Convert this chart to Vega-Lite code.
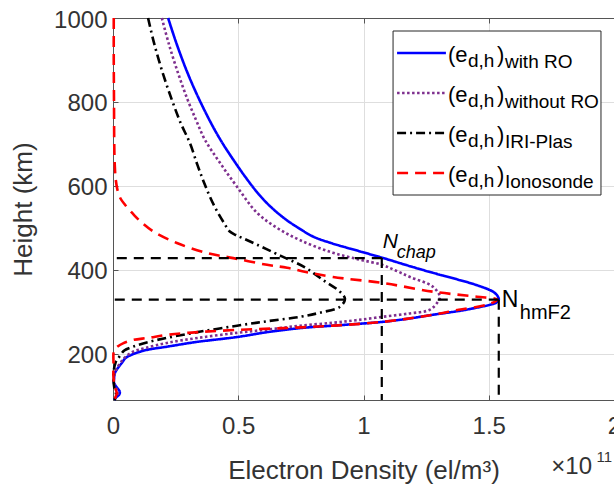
{
  "$schema": "https://vega.github.io/schema/vega-lite/v6.json",
  "width": 501,
  "height": 382,
  "autosize": {"type": "none"},
  "padding": {"left": 113, "top": 18, "right": 0, "bottom": 86},
  "background": "white",
  "config": {
    "font": "Liberation Sans",
    "view": {"stroke": "#555555", "strokeWidth": 1},
    "axis": {
      "labelFont": "Liberation Sans",
      "labelFontSize": 24,
      "labelColor": "#333333",
      "titleFont": "Liberation Sans",
      "titleFontSize": 26,
      "titleFontWeight": "normal",
      "titleColor": "#333333",
      "domainColor": "#555555",
      "tickColor": "#555555",
      "gridColor": "#dedede",
      "grid": true,
      "tickSize": -5,
      "labelFlush": false,
      "labelOverlap": false
    }
  },
  "datasets": {
    "profiles": [
      {"s": "with RO", "h": 1000, "n": 0.22},
      {"s": "with RO", "h": 940, "n": 0.253},
      {"s": "with RO", "h": 870, "n": 0.297},
      {"s": "with RO", "h": 805, "n": 0.345},
      {"s": "with RO", "h": 740, "n": 0.4},
      {"s": "with RO", "h": 700, "n": 0.439},
      {"s": "with RO", "h": 660, "n": 0.483},
      {"s": "with RO", "h": 620, "n": 0.53},
      {"s": "with RO", "h": 580, "n": 0.582},
      {"s": "with RO", "h": 550, "n": 0.63},
      {"s": "with RO", "h": 520, "n": 0.69},
      {"s": "with RO", "h": 500, "n": 0.74},
      {"s": "with RO", "h": 479, "n": 0.8},
      {"s": "with RO", "h": 464, "n": 0.87},
      {"s": "with RO", "h": 445, "n": 0.98},
      {"s": "with RO", "h": 429, "n": 1.074},
      {"s": "with RO", "h": 408, "n": 1.19},
      {"s": "with RO", "h": 393, "n": 1.277},
      {"s": "with RO", "h": 378, "n": 1.37},
      {"s": "with RO", "h": 364, "n": 1.45},
      {"s": "with RO", "h": 348, "n": 1.517},
      {"s": "with RO", "h": 338, "n": 1.535},
      {"s": "with RO", "h": 329, "n": 1.54},
      {"s": "with RO", "h": 322, "n": 1.53},
      {"s": "with RO", "h": 317, "n": 1.505},
      {"s": "with RO", "h": 304, "n": 1.4},
      {"s": "with RO", "h": 293, "n": 1.277},
      {"s": "with RO", "h": 283, "n": 1.17},
      {"s": "with RO", "h": 276, "n": 1.074},
      {"s": "with RO", "h": 268, "n": 0.9},
      {"s": "with RO", "h": 262, "n": 0.76},
      {"s": "with RO", "h": 252, "n": 0.62},
      {"s": "with RO", "h": 240, "n": 0.495},
      {"s": "with RO", "h": 228, "n": 0.33},
      {"s": "with RO", "h": 217, "n": 0.215},
      {"s": "with RO", "h": 210, "n": 0.14},
      {"s": "with RO", "h": 205, "n": 0.108},
      {"s": "with RO", "h": 198, "n": 0.075},
      {"s": "with RO", "h": 190, "n": 0.05},
      {"s": "with RO", "h": 179, "n": 0.036},
      {"s": "with RO", "h": 165, "n": 0.018},
      {"s": "with RO", "h": 155, "n": 0.008},
      {"s": "with RO", "h": 140, "n": 0.004},
      {"s": "with RO", "h": 131, "n": 0.004},
      {"s": "with RO", "h": 120, "n": 0.015},
      {"s": "with RO", "h": 110, "n": 0.027},
      {"s": "with RO", "h": 103, "n": 0.025},
      {"s": "with RO", "h": 96, "n": 0.012},
      {"s": "with RO", "h": 90, "n": 0.005},

      {"s": "without RO", "h": 1000, "n": 0.195},
      {"s": "without RO", "h": 940, "n": 0.222},
      {"s": "without RO", "h": 870, "n": 0.259},
      {"s": "without RO", "h": 805, "n": 0.298},
      {"s": "without RO", "h": 755, "n": 0.333},
      {"s": "without RO", "h": 710, "n": 0.367},
      {"s": "without RO", "h": 655, "n": 0.427},
      {"s": "without RO", "h": 598, "n": 0.495},
      {"s": "without RO", "h": 536, "n": 0.575},
      {"s": "without RO", "h": 500, "n": 0.655},
      {"s": "without RO", "h": 471, "n": 0.746},
      {"s": "without RO", "h": 443, "n": 0.866},
      {"s": "without RO", "h": 425, "n": 0.98},
      {"s": "without RO", "h": 412, "n": 1.074},
      {"s": "without RO", "h": 398, "n": 1.13},
      {"s": "without RO", "h": 383, "n": 1.186},
      {"s": "without RO", "h": 360, "n": 1.277},
      {"s": "without RO", "h": 336, "n": 1.305},
      {"s": "without RO", "h": 324, "n": 1.297},
      {"s": "without RO", "h": 305, "n": 1.265},
      {"s": "without RO", "h": 296, "n": 1.18},
      {"s": "without RO", "h": 288, "n": 1.074},
      {"s": "without RO", "h": 280, "n": 0.97},
      {"s": "without RO", "h": 274, "n": 0.878},
      {"s": "without RO", "h": 267, "n": 0.746},
      {"s": "without RO", "h": 258, "n": 0.62},
      {"s": "without RO", "h": 250, "n": 0.495},
      {"s": "without RO", "h": 238, "n": 0.34},
      {"s": "without RO", "h": 226, "n": 0.215},
      {"s": "without RO", "h": 214, "n": 0.13},
      {"s": "without RO", "h": 205, "n": 0.08},
      {"s": "without RO", "h": 190, "n": 0.045},
      {"s": "without RO", "h": 179, "n": 0.03},
      {"s": "without RO", "h": 165, "n": 0.015},
      {"s": "without RO", "h": 150, "n": 0.006},
      {"s": "without RO", "h": 130, "n": 0.004},
      {"s": "without RO", "h": 115, "n": 0.015},
      {"s": "without RO", "h": 105, "n": 0.02},
      {"s": "without RO", "h": 95, "n": 0.01},
      {"s": "without RO", "h": 90, "n": 0.005},

      {"s": "IRI-Plas", "h": 1000, "n": 0.14},
      {"s": "IRI-Plas", "h": 940, "n": 0.164},
      {"s": "IRI-Plas", "h": 870, "n": 0.198},
      {"s": "IRI-Plas", "h": 805, "n": 0.235},
      {"s": "IRI-Plas", "h": 750, "n": 0.27},
      {"s": "IRI-Plas", "h": 702, "n": 0.307},
      {"s": "IRI-Plas", "h": 650, "n": 0.337},
      {"s": "IRI-Plas", "h": 610, "n": 0.362},
      {"s": "IRI-Plas", "h": 574, "n": 0.387},
      {"s": "IRI-Plas", "h": 540, "n": 0.415},
      {"s": "IRI-Plas", "h": 510, "n": 0.445},
      {"s": "IRI-Plas", "h": 492, "n": 0.465},
      {"s": "IRI-Plas", "h": 483, "n": 0.49},
      {"s": "IRI-Plas", "h": 475, "n": 0.52},
      {"s": "IRI-Plas", "h": 460, "n": 0.575},
      {"s": "IRI-Plas", "h": 436, "n": 0.66},
      {"s": "IRI-Plas", "h": 428, "n": 0.69},
      {"s": "IRI-Plas", "h": 406, "n": 0.766},
      {"s": "IRI-Plas", "h": 376, "n": 0.838},
      {"s": "IRI-Plas", "h": 348, "n": 0.906},
      {"s": "IRI-Plas", "h": 331, "n": 0.926},
      {"s": "IRI-Plas", "h": 312, "n": 0.906},
      {"s": "IRI-Plas", "h": 298, "n": 0.826},
      {"s": "IRI-Plas", "h": 288, "n": 0.746},
      {"s": "IRI-Plas", "h": 278, "n": 0.62},
      {"s": "IRI-Plas", "h": 267, "n": 0.495},
      {"s": "IRI-Plas", "h": 253, "n": 0.35},
      {"s": "IRI-Plas", "h": 238, "n": 0.215},
      {"s": "IRI-Plas", "h": 228, "n": 0.14},
      {"s": "IRI-Plas", "h": 217, "n": 0.08},
      {"s": "IRI-Plas", "h": 208, "n": 0.045},
      {"s": "IRI-Plas", "h": 193, "n": 0.025},
      {"s": "IRI-Plas", "h": 179, "n": 0.01},
      {"s": "IRI-Plas", "h": 160, "n": 0.003},
      {"s": "IRI-Plas", "h": 140, "n": 0.002},
      {"s": "IRI-Plas", "h": 120, "n": 0.005},
      {"s": "IRI-Plas", "h": 105, "n": 0.012},
      {"s": "IRI-Plas", "h": 97, "n": 0.012},
      {"s": "IRI-Plas", "h": 90, "n": 0.005},

      {"s": "Ionosonde", "h": 1000, "n": 0.003},
      {"s": "Ionosonde", "h": 900, "n": 0.003},
      {"s": "Ionosonde", "h": 800, "n": 0.004},
      {"s": "Ionosonde", "h": 700, "n": 0.005},
      {"s": "Ionosonde", "h": 650, "n": 0.007},
      {"s": "Ionosonde", "h": 615, "n": 0.011},
      {"s": "Ionosonde", "h": 590, "n": 0.018},
      {"s": "Ionosonde", "h": 570, "n": 0.03},
      {"s": "Ionosonde", "h": 555, "n": 0.048},
      {"s": "Ionosonde", "h": 530, "n": 0.085},
      {"s": "Ionosonde", "h": 510, "n": 0.12},
      {"s": "Ionosonde", "h": 490, "n": 0.165},
      {"s": "Ionosonde", "h": 464, "n": 0.255},
      {"s": "Ionosonde", "h": 440, "n": 0.375},
      {"s": "Ionosonde", "h": 428, "n": 0.48},
      {"s": "Ionosonde", "h": 412, "n": 0.615},
      {"s": "Ionosonde", "h": 405, "n": 0.695},
      {"s": "Ionosonde", "h": 395, "n": 0.77},
      {"s": "Ionosonde", "h": 383, "n": 0.878},
      {"s": "Ionosonde", "h": 369, "n": 1.074},
      {"s": "Ionosonde", "h": 348, "n": 1.277},
      {"s": "Ionosonde", "h": 336, "n": 1.453},
      {"s": "Ionosonde", "h": 329, "n": 1.533},
      {"s": "Ionosonde", "h": 317, "n": 1.493},
      {"s": "Ionosonde", "h": 305, "n": 1.38},
      {"s": "Ionosonde", "h": 293, "n": 1.277},
      {"s": "Ionosonde", "h": 276, "n": 1.074},
      {"s": "Ionosonde", "h": 264, "n": 0.786},
      {"s": "Ionosonde", "h": 257, "n": 0.495},
      {"s": "Ionosonde", "h": 250, "n": 0.3},
      {"s": "Ionosonde", "h": 245, "n": 0.215},
      {"s": "Ionosonde", "h": 238, "n": 0.14},
      {"s": "Ionosonde", "h": 233, "n": 0.08},
      {"s": "Ionosonde", "h": 225, "n": 0.04},
      {"s": "Ionosonde", "h": 218, "n": 0.02},
      {"s": "Ionosonde", "h": 210, "n": 0.006},
      {"s": "Ionosonde", "h": 202, "n": 0.002},
      {"s": "Ionosonde", "h": 179, "n": 0.002},
      {"s": "Ionosonde", "h": 143, "n": 0.002},
      {"s": "Ionosonde", "h": 120, "n": 0.008},
      {"s": "Ionosonde", "h": 107, "n": 0.015},
      {"s": "Ionosonde", "h": 97, "n": 0.01},
      {"s": "Ionosonde", "h": 90, "n": 0.003}
    ],
    "refs": [
      {"label": "chap", "n": 1.073, "h": 428},
      {"label": "hmF2", "n": 1.54, "h": 329}
    ],
    "keys": [
      {"s": "with RO", "k": 0},
      {"s": "without RO", "k": 1},
      {"s": "IRI-Plas", "k": 2},
      {"s": "Ionosonde", "k": 3}
    ]
  },
  "layer": [
    {
      "layer": [
        {
          "data": {"name": "profiles"},
          "mark": {"type": "line", "strokeWidth": 2.6, "interpolate": "catmull-rom"},
          "encoding": {
            "x": {
              "field": "n",
              "type": "quantitative",
              "scale": {"domain": [0, 2], "nice": false, "zero": false},
              "axis": {
                "values": [0, 0.5, 1, 1.5, 2],
                "labelExpr": "format(datum.value, '~g')",
                "labelPadding": 19,
                "title": "Electron Density (el/m³)",
                "titleBaseline": "alphabetic",
                "titleY": 78
              }
            },
            "y": {
              "field": "h",
              "type": "quantitative",
              "scale": {"domain": [90, 1000], "nice": false, "zero": false},
              "axis": {
                "values": [200, 400, 600, 800, 1000],
                "labelExpr": "format(datum.value, 'd')",
                "labelPadding": 11,
                "labelOffset": 2,
                "title": "Height (km)",
                "titleBaseline": "alphabetic",
                "titleX": -82
              }
            },
            "color": {
              "field": "s",
              "type": "nominal",
              "scale": {
                "domain": ["with RO", "without RO", "IRI-Plas", "Ionosonde"],
                "range": ["#0000ff", "#7e2f8e", "#000000", "#ff0000"]
              },
              "legend": null
            },
            "strokeDash": {
              "field": "s",
              "type": "nominal",
              "scale": {
                "domain": ["with RO", "without RO", "IRI-Plas", "Ionosonde"],
                "range": [[1, 0], [2.5, 2.5], [9, 4, 2, 4], [11, 7]]
              },
              "legend": null
            },
            "order": {"field": "h", "type": "quantitative", "sort": "descending"}
          }
        },
        {
          "data": {"name": "refs"},
          "mark": {"type": "rule", "color": "#000000", "strokeWidth": 2.2, "strokeDash": [10, 7]},
          "encoding": {
            "x": {"field": "n", "type": "quantitative"},
            "x2": {"datum": 0},
            "y": {"field": "h", "type": "quantitative"}
          }
        },
        {
          "data": {"name": "refs"},
          "mark": {"type": "rule", "color": "#000000", "strokeWidth": 2.2, "strokeDash": [10, 7]},
          "encoding": {
            "x": {"field": "n", "type": "quantitative"},
            "y": {"field": "h", "type": "quantitative"},
            "y2": {"datum": 90}
          }
        },
        {
          "data": {"name": "refs"},
          "transform": [{"filter": "datum.label === 'chap'"}],
          "mark": {"type": "text", "text": "N", "fontSize": 21, "fontStyle": "italic", "align": "left", "baseline": "alphabetic", "dx": 1, "dy": -10, "color": "#000000"},
          "encoding": {
            "x": {"field": "n", "type": "quantitative"},
            "y": {"field": "h", "type": "quantitative"}
          }
        },
        {
          "data": {"name": "refs"},
          "transform": [{"filter": "datum.label === 'chap'"}],
          "mark": {"type": "text", "fontSize": 18, "fontStyle": "italic", "align": "left", "baseline": "alphabetic", "dx": 15, "dy": 0, "color": "#000000"},
          "encoding": {
            "x": {"field": "n", "type": "quantitative"},
            "y": {"field": "h", "type": "quantitative"},
            "text": {"field": "label", "type": "nominal"}
          }
        },
        {
          "data": {"name": "refs"},
          "transform": [{"filter": "datum.label === 'hmF2'"}],
          "mark": {"type": "text", "text": "N", "fontSize": 23, "align": "left", "baseline": "alphabetic", "dx": 3, "dy": 7, "color": "#000000"},
          "encoding": {
            "x": {"field": "n", "type": "quantitative"},
            "y": {"field": "h", "type": "quantitative"}
          }
        },
        {
          "data": {"name": "refs"},
          "transform": [{"filter": "datum.label === 'hmF2'"}],
          "mark": {"type": "text", "fontSize": 20, "align": "left", "baseline": "alphabetic", "dx": 21, "dy": 19, "color": "#000000"},
          "encoding": {
            "x": {"field": "n", "type": "quantitative"},
            "y": {"field": "h", "type": "quantitative"},
            "text": {"field": "label", "type": "nominal"}
          }
        },
        {
          "data": {"values": [{}]},
          "mark": {"type": "text", "text": "×10", "fontSize": 24, "align": "right", "baseline": "alphabetic", "dx": -22, "dy": 74, "color": "#333333"},
          "encoding": {"x": {"datum": 2, "type": "quantitative"}, "y": {"datum": 90, "type": "quantitative"}}
        },
        {
          "data": {"values": [{}]},
          "mark": {"type": "text", "text": "11", "fontSize": 15, "align": "right", "baseline": "alphabetic", "dx": -2, "dy": 62, "color": "#333333"},
          "encoding": {"x": {"datum": 2, "type": "quantitative"}, "y": {"datum": 90, "type": "quantitative"}}
        }
      ]
    },
    {
      "data": {"name": "keys"},
      "layer": [
        {
          "data": {"values": [{}]},
          "mark": {"type": "rect", "fill": "#ffffff", "stroke": "#262626", "strokeWidth": 1},
          "encoding": {
            "x": {
              "datum": 1.118,
              "type": "quantitative",
              "axis": {"orient": "top", "values": [0, 0.5, 1, 1.5, 2], "labels": false, "grid": false, "title": null}
            },
            "x2": {"datum": 1.948},
            "y": {
              "datum": -0.55,
              "type": "quantitative",
              "scale": {"domain": [-0.875, 8.675], "reverse": true, "nice": false, "zero": false},
              "axis": null
            },
            "y2": {"datum": 3.55}
          }
        },
        {
          "mark": {"type": "rule", "strokeWidth": 2.6},
          "encoding": {
            "x": {"datum": 1.134, "type": "quantitative"},
            "x2": {"datum": 1.329},
            "y": {"field": "k", "type": "quantitative"},
            "color": {"field": "s", "type": "nominal", "legend": null},
            "strokeDash": {"field": "s", "type": "nominal", "legend": null}
          }
        },
        {
          "mark": {"type": "text", "text": "(e", "fontSize": 22, "align": "left", "baseline": "alphabetic", "dy": 9, "color": "#000000"},
          "encoding": {"x": {"datum": 1.337, "type": "quantitative"}, "y": {"field": "k", "type": "quantitative"}}
        },
        {
          "mark": {"type": "text", "text": "d,h", "fontSize": 19, "align": "left", "baseline": "alphabetic", "dx": 20, "dy": 14, "color": "#000000"},
          "encoding": {"x": {"datum": 1.337, "type": "quantitative"}, "y": {"field": "k", "type": "quantitative"}}
        },
        {
          "mark": {"type": "text", "text": ")", "fontSize": 22, "align": "left", "baseline": "alphabetic", "dx": 49, "dy": 9, "color": "#000000"},
          "encoding": {"x": {"datum": 1.337, "type": "quantitative"}, "y": {"field": "k", "type": "quantitative"}}
        },
        {
          "mark": {"type": "text", "fontSize": 19, "align": "left", "baseline": "alphabetic", "dx": 57, "dy": 15, "color": "#000000"},
          "encoding": {"x": {"datum": 1.337, "type": "quantitative"}, "y": {"field": "k", "type": "quantitative"}, "text": {"field": "s", "type": "nominal"}}
        }
      ]
    }
  ],
  "resolve": {"scale": {"y": "independent"}, "axis": {"x": "independent"}}
}
